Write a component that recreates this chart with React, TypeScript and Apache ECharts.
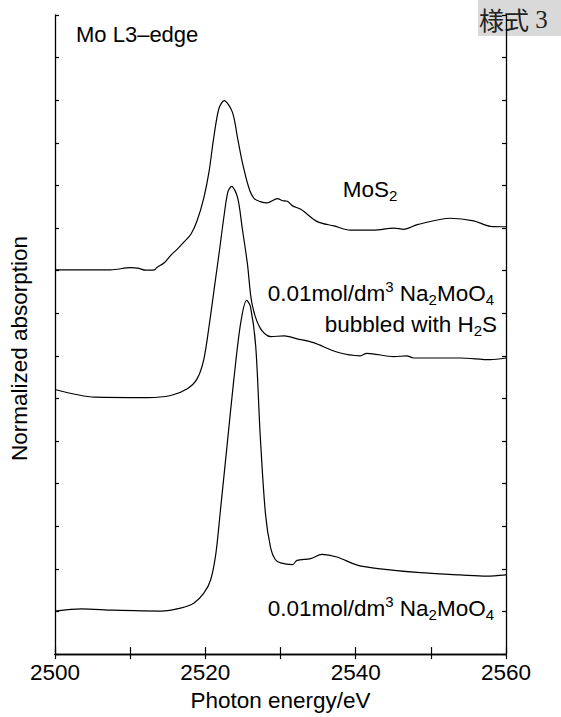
import React, { useEffect, useRef } from "react";
import * as echarts from "echarts";

const FONT = '"Liberation Sans", Arial, Helvetica, sans-serif';

// x-axis tick labels (major) — minor ticks every 10 eV
const xTickLabels = [2500, 2520, 2540, 2560];

// MoS2 (top curve)
const mos2Energy = [2500, 2507.4, 2510.1, 2511.0, 2512.1, 2513.2, 2513.6, 2514.5, 2515.4, 2516.3, 2517.2, 2518.1, 2518.9, 2519.8, 2520.5, 2521.1, 2521.8, 2522.5, 2523.6, 2524.3, 2524.9, 2525.8, 2526.5, 2527.3, 2528.2, 2529.6, 2530.3, 2530.9, 2531.6, 2532.7, 2534.9, 2537.1, 2539.3, 2542.4, 2545.1, 2546.4, 2548.2, 2552.6, 2555.7, 2557.9, 2560];
const mos2Abs = [9.02, 9.02, 9.07, 9.06, 9.01, 9.02, 9.08, 9.18, 9.36, 9.51, 9.68, 9.86, 10.17, 10.71, 11.33, 12.10, 12.80, 12.99, 12.72, 12.10, 11.56, 10.94, 10.69, 10.62, 10.59, 10.69, 10.64, 10.63, 10.52, 10.44, 10.15, 10.05, 9.95, 9.95, 10.0, 9.97, 10.08, 10.23, 10.17, 10.04, 10.03];

// 0.01 mol/dm3 Na2MoO4 bubbled with H2S (middle curve)
const h2sEnergy = [2500, 2505.3, 2512.3, 2515.4, 2517.6, 2518.9, 2519.8, 2520.5, 2521.2, 2521.9, 2522.5, 2523.0, 2523.5, 2524.3, 2524.9, 2525.6, 2526.2, 2527.3, 2528.7, 2530.5, 2532.2, 2534.4, 2537.5, 2540.6, 2541.5, 2545.1, 2546.8, 2547.7, 2553.9, 2557.9, 2560];
const h2sAbs = [6.21, 6.03, 6.02, 6.07, 6.23, 6.46, 6.92, 7.70, 8.60, 9.50, 10.30, 10.85, 10.98, 10.71, 10.01, 9.16, 8.23, 7.65, 7.45, 7.47, 7.40, 7.31, 7.09, 7.00, 7.06, 6.98, 7.00, 6.95, 6.95, 6.91, 6.95];

// 0.01 mol/dm3 Na2MoO4 (bottom curve)
const naEnergy = [2500, 2503.5, 2507.8, 2514.1, 2516.7, 2518.5, 2519.8, 2520.7, 2521.4, 2522.0, 2522.9, 2523.8, 2524.7, 2525.5, 2526.0, 2526.7, 2527.3, 2528.0, 2528.7, 2529.3, 2530.0, 2531.6, 2532.2, 2534.0, 2535.5, 2537.5, 2540.2, 2543.3, 2548.6, 2553.9, 2557.4, 2560];
const naAbs = [1.01, 1.06, 1.03, 1.01, 1.08, 1.20, 1.43, 1.74, 2.36, 3.36, 4.91, 6.46, 7.77, 8.30, 8.16, 7.23, 5.14, 3.29, 2.48, 2.22, 2.14, 2.10, 2.20, 2.24, 2.34, 2.28, 2.09, 2.00, 1.91, 1.86, 1.83, 1.86];

const zip = (xs: number[], ys: number[]) => xs.map((x, i) => [x, ys[i]]);

const LABEL_SIZE = 22.5;
const richStyles = {
  n: { fontSize: LABEL_SIZE, fontFamily: FONT, lineHeight: 28, fill: "#000", verticalAlign: "middle" },
  sub: { fontSize: 15, fontFamily: FONT, lineHeight: 15, fill: "#000", verticalAlign: "bottom" },
  sup: { fontSize: 15, fontFamily: FONT, lineHeight: 15, fill: "#000", verticalAlign: "top" },
};

export default function App() {
  const ref = useRef<HTMLDivElement>(null);
  useEffect(() => {
    if (!ref.current) return;
    const chart = echarts.init(ref.current, null, { renderer: "svg" });
    const axisLine = { show: true, lineStyle: { color: "#000", width: 1.3 } };
    const option = {
      animation: false,
      backgroundColor: "#fff",
      grid: { left: 54, right: 55, top: 15, bottom: 55 },
      xAxis: [
        {
          type: "value",
          position: "bottom",
          min: 2500,
          max: 2560,
          interval: 10,
          z: 10,
          axisLine,
          axisTick: { show: true, inside: true, length: 7, lineStyle: { color: "#000", width: 1.2 } },
          splitLine: { show: false },
          axisLabel: {
            show: true,
            margin: 7,
            color: "#000",
            fontSize: 22.5,
            fontFamily: FONT,
            showMinLabel: true,
            showMaxLabel: true,
            formatter: (v: number) => (xTickLabels.includes(v) ? String(v) : ""),
          },
          name: "Photon energy/eV",
          nameLocation: "middle",
          nameGap: 33,
          nameTextStyle: { color: "#000", fontSize: 22.5, fontFamily: FONT },
        },
        {
          type: "value",
          position: "top",
          min: 2500,
          max: 2560,
          interval: 10,
          z: 10,
          axisLine,
          axisTick: { show: true, inside: true, length: 5, lineStyle: { color: "#000", width: 1.2 } },
          splitLine: { show: false },
          axisLabel: { show: false },
        },
      ],
      yAxis: [
        {
          type: "value",
          position: "left",
          min: 0,
          max: 15,
          interval: 1,
          z: 10,
          axisLine,
          axisTick: { show: true, inside: true, length: 4, lineStyle: { color: "#000", width: 1.2 } },
          splitLine: { show: false },
          axisLabel: { show: false },
          name: "Normalized absorption",
          nameLocation: "middle",
          nameGap: 24,
          nameRotate: 90,
          nameTextStyle: { color: "#000", fontSize: 22.5, fontFamily: FONT, padding: [0, 28, 0, 0] },
        },
        {
          type: "value",
          position: "right",
          min: 0,
          max: 15,
          interval: 1,
          z: 10,
          axisLine,
          axisTick: { show: true, inside: true, length: 4, lineStyle: { color: "#000", width: 1.2 } },
          splitLine: { show: false },
          axisLabel: { show: false },
        },
      ],
      series: [
        { name: "MoS2", data: zip(mos2Energy, mos2Abs) },
        { name: "Na2MoO4 bubbled with H2S", data: zip(h2sEnergy, h2sAbs) },
        { name: "Na2MoO4", data: zip(naEnergy, naAbs) },
      ].map((s) => ({
        ...s,
        type: "line",
        xAxisIndex: 0,
        yAxisIndex: 0,
        showSymbol: false,
        smooth: 0.3,
        lineStyle: { color: "#000", width: 1.2 },
        itemStyle: { color: "#000" },
      })),
      graphic: [
        { type: "rect", z: 0, shape: { x: 478, y: 0, width: 83, height: 36 }, style: { fill: "#d9d9d9" } },
        {
          type: "text",
          z: 1,
          x: 479,
          y: 19,
          style: {
            text: "{a|様式}{b| 3}",
            align: "left",
            verticalAlign: "middle",
            rich: {
              a: { fontSize: 25, fontFamily: '"Noto Sans CJK JP", sans-serif', fill: "#222" },
              b: { fontSize: 25, fontFamily: '"Liberation Serif", "DejaVu Serif", serif', fill: "#222" },
            },
          },
        },
        {
          type: "text",
          x: 76,
          y: 34,
          style: { text: "Mo L3–edge", fontSize: 22, fontFamily: FONT, fill: "#000", align: "left", verticalAlign: "middle" },
        },
        {
          type: "text",
          x: 370,
          y: 189,
          style: { text: "{n|MoS}{sub|2}", align: "center", verticalAlign: "middle", rich: richStyles },
        },
        {
          type: "text",
          x: 494,
          y: 293,
          style: { text: "{n|0.01mol/dm}{sup|3}{n| Na}{sub|2}{n|MoO}{sub|4}", align: "right", verticalAlign: "middle", rich: richStyles },
        },
        {
          type: "text",
          x: 497,
          y: 324,
          style: { text: "{n|bubbled with H}{sub|2}{n|S}", align: "right", verticalAlign: "middle", rich: richStyles },
        },
        {
          type: "text",
          x: 494,
          y: 608,
          style: { text: "{n|0.01mol/dm}{sup|3}{n| Na}{sub|2}{n|MoO}{sub|4}", align: "right", verticalAlign: "middle", rich: richStyles },
        },
      ],
    };
    chart.setOption(option as any);
    return () => chart.dispose();
  }, []);
  return <div ref={ref} style={{ position: "absolute", left: 0, top: 0, width: 561, height: 717 }} />;
}
